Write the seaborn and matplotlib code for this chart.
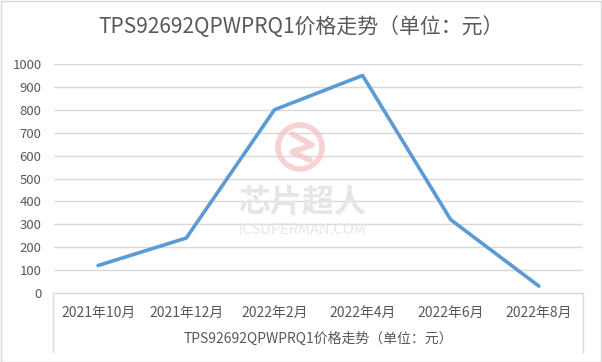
import matplotlib
matplotlib.use("Agg")
import matplotlib.pyplot as plt
import seaborn as sns
import pandas as pd
from matplotlib.lines import Line2D
from matplotlib.patches import Circle, Rectangle

categories = ["2021年10月", "2021年12月", "2022年2月", "2022年4月", "2022年6月", "2022年8月"]
prices = [120, 240, 800, 950, 320, 30]
yticks = [0, 100, 200, 300, 400, 500, 600, 700, 800, 900, 1000]
title = "TPS92692QPWPRQ1价格走势（单位：元）"

sns.set_theme(style="white")
plt.rcParams['font.family'] = ['Noto Sans CJK SC', 'DejaVu Sans']

df = pd.DataFrame({"月份": categories, "价格": prices})
df["x"] = range(len(categories))

W, H = 602, 362
fig = plt.figure(figsize=(W / 100, H / 100), dpi=100)
ax = fig.add_axes([54 / W, 1 - 293 / H, (583 - 54) / W, (293 - 64) / H])

text_c = "#595959"
grid_c = "#D9D9D9"

sns.lineplot(data=df, x="x", y="价格", ax=ax, color="#5B9BD5", linewidth=2.6,
             solid_joinstyle="round", solid_capstyle="round", zorder=3)

ax.set_xlim(-0.5, len(categories) - 0.5)
ax.set_ylim(0, 1000)
ax.set_yticks(yticks)
ax.set_yticklabels([str(v) for v in yticks], color=text_c, fontsize=9.5)
ax.set_xticks(range(len(categories)))
ax.set_xticklabels(categories, color=text_c, fontsize=10)
ax.tick_params(axis="x", length=0, pad=9)
ax.tick_params(axis="y", length=0, pad=9)
ax.set_xlabel(title, color=text_c, fontsize=10, labelpad=9)
ax.set_ylabel("")
ax.yaxis.grid(True, color=grid_c, linewidth=1)
ax.set_axisbelow(True)
for s in ["top", "right", "left"]:
    ax.spines[s].set_visible(False)
ax.spines["bottom"].set_color(grid_c)
ax.spines["bottom"].set_linewidth(1)

# box around category axis area
for xp in (53, 583):
    fig.add_artist(Line2D([xp / W, xp / W], [1 - 293 / H, 1 - 352 / H],
                          color=grid_c, linewidth=1, transform=fig.transFigure))

# figure border
fig.add_artist(Rectangle((0.5 / W, 0.5 / H), (W - 1.5) / W, (H - 1.5) / H, fill=False,
                         edgecolor="#D9D9D9", linewidth=1, transform=fig.transFigure))

fig.text(0.5, 1 - 27 / H, title, ha="center", va="center", fontsize=15, color=text_c)

# watermark
wm = fig.add_axes([0, 0, 1, 1], facecolor="none")
wm.set_xlim(0, W)
wm.set_ylim(H, 0)
wm.axis("off")
wm.add_patch(Circle((300, 147), 22, fill=False, edgecolor="#F4C7C7", linewidth=4, alpha=0.8))
wm.plot([292, 312, 292, 310], [134, 145, 152, 160], color="#F4C7C7", linewidth=4, alpha=0.8)
wm.text(302, 203, "芯片超人", ha="center", va="center", fontsize=23, color="#E6E6E6",
        fontweight="bold", style="italic")
wm.text(302, 230, "ICSUPERMAN.COM", ha="center", va="center", fontsize=10.5, color="#E6E6E6")

fig.savefig("out.png", dpi=100)
